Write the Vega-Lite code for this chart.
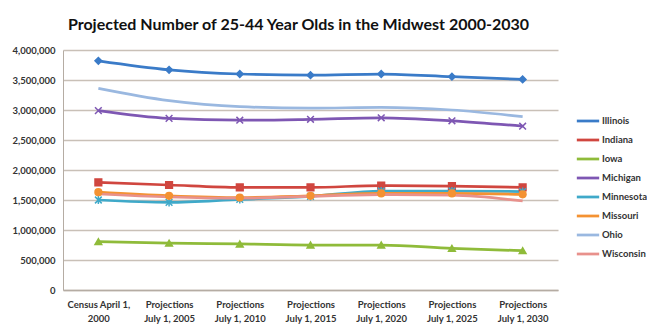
{
  "$schema": "https://vega.github.io/schema/vega-lite/v6.json",
  "width": 495,
  "height": 240,
  "autosize": {"type": "none"},
  "padding": {"left": 63, "top": 50, "right": 89, "bottom": 38},
  "background": "white",
  "title": {
    "text": "Projected Number of 25-44 Year Olds in the Midwest 2000-2030",
    "font": "Lato",
    "fontSize": 16,
    "fontWeight": "bold",
    "color": "#111111",
    "anchor": "middle",
    "dx": -12,
    "offset": 12
  },
  "data": {
    "values": [
      {"period": "Census April 1, 2000", "state": "Illinois", "value": 3820000},
      {"period": "Projections July 1, 2005", "state": "Illinois", "value": 3670000},
      {"period": "Projections July 1, 2010", "state": "Illinois", "value": 3600000},
      {"period": "Projections July 1, 2015", "state": "Illinois", "value": 3580000},
      {"period": "Projections July 1, 2020", "state": "Illinois", "value": 3600000},
      {"period": "Projections July 1, 2025", "state": "Illinois", "value": 3555000},
      {"period": "Projections July 1, 2030", "state": "Illinois", "value": 3510000},
      {"period": "Census April 1, 2000", "state": "Indiana", "value": 1795000},
      {"period": "Projections July 1, 2005", "state": "Indiana", "value": 1750000},
      {"period": "Projections July 1, 2010", "state": "Indiana", "value": 1710000},
      {"period": "Projections July 1, 2015", "state": "Indiana", "value": 1710000},
      {"period": "Projections July 1, 2020", "state": "Indiana", "value": 1740000},
      {"period": "Projections July 1, 2025", "state": "Indiana", "value": 1730000},
      {"period": "Projections July 1, 2030", "state": "Indiana", "value": 1710000},
      {"period": "Census April 1, 2000", "state": "Iowa", "value": 805000},
      {"period": "Projections July 1, 2005", "state": "Iowa", "value": 780000},
      {"period": "Projections July 1, 2010", "state": "Iowa", "value": 767000},
      {"period": "Projections July 1, 2015", "state": "Iowa", "value": 750000},
      {"period": "Projections July 1, 2020", "state": "Iowa", "value": 750000},
      {"period": "Projections July 1, 2025", "state": "Iowa", "value": 695000},
      {"period": "Projections July 1, 2030", "state": "Iowa", "value": 655000},
      {"period": "Census April 1, 2000", "state": "Michigan", "value": 2990000},
      {"period": "Projections July 1, 2005", "state": "Michigan", "value": 2860000},
      {"period": "Projections July 1, 2010", "state": "Michigan", "value": 2830000},
      {"period": "Projections July 1, 2015", "state": "Michigan", "value": 2845000},
      {"period": "Projections July 1, 2020", "state": "Michigan", "value": 2870000},
      {"period": "Projections July 1, 2025", "state": "Michigan", "value": 2820000},
      {"period": "Projections July 1, 2030", "state": "Michigan", "value": 2730000},
      {"period": "Census April 1, 2000", "state": "Minnesota", "value": 1500000},
      {"period": "Projections July 1, 2005", "state": "Minnesota", "value": 1460000},
      {"period": "Projections July 1, 2010", "state": "Minnesota", "value": 1510000},
      {"period": "Projections July 1, 2015", "state": "Minnesota", "value": 1560000},
      {"period": "Projections July 1, 2020", "state": "Minnesota", "value": 1650000},
      {"period": "Projections July 1, 2025", "state": "Minnesota", "value": 1650000},
      {"period": "Projections July 1, 2030", "state": "Minnesota", "value": 1640000},
      {"period": "Census April 1, 2000", "state": "Missouri", "value": 1630000},
      {"period": "Projections July 1, 2005", "state": "Missouri", "value": 1570000},
      {"period": "Projections July 1, 2010", "state": "Missouri", "value": 1540000},
      {"period": "Projections July 1, 2015", "state": "Missouri", "value": 1570000},
      {"period": "Projections July 1, 2020", "state": "Missouri", "value": 1610000},
      {"period": "Projections July 1, 2025", "state": "Missouri", "value": 1610000},
      {"period": "Projections July 1, 2030", "state": "Missouri", "value": 1595000},
      {"period": "Census April 1, 2000", "state": "Ohio", "value": 3360000},
      {"period": "Projections July 1, 2005", "state": "Ohio", "value": 3155000},
      {"period": "Projections July 1, 2010", "state": "Ohio", "value": 3055000},
      {"period": "Projections July 1, 2015", "state": "Ohio", "value": 3030000},
      {"period": "Projections July 1, 2020", "state": "Ohio", "value": 3045000},
      {"period": "Projections July 1, 2025", "state": "Ohio", "value": 3000000},
      {"period": "Projections July 1, 2030", "state": "Ohio", "value": 2890000},
      {"period": "Census April 1, 2000", "state": "Wisconsin", "value": 1600000},
      {"period": "Projections July 1, 2005", "state": "Wisconsin", "value": 1550000},
      {"period": "Projections July 1, 2010", "state": "Wisconsin", "value": 1530000},
      {"period": "Projections July 1, 2015", "state": "Wisconsin", "value": 1560000},
      {"period": "Projections July 1, 2020", "state": "Wisconsin", "value": 1590000},
      {"period": "Projections July 1, 2025", "state": "Wisconsin", "value": 1580000},
      {"period": "Projections July 1, 2030", "state": "Wisconsin", "value": 1485000}
    ]
  },
  "encoding": {
    "x": {
      "field": "period",
      "type": "ordinal",
      "sort": null,
      "axis": {
        "title": null,
        "labelAngle": 0,
        "ticks": false,
        "labelPadding": 9,
        "labelFont": "Lato",
        "labelFontSize": 9.5,
        "labelFontWeight": "bold",
        "labelColor": "#333333",
        "labelLineHeight": 14,
        "labelExpr": "indexof(datum.label, 'Census') == 0 ? ['Census  April 1,', '2000'] : ['Projections', substring(datum.label, 12)]",
        "domainColor": "#b5aca3",
        "domainWidth": 1.5
      }
    },
    "y": {
      "field": "value",
      "type": "quantitative",
      "scale": {"domain": [0, 4000000], "nice": false},
      "axis": {
        "title": null,
        "values": [0, 500000, 1000000, 1500000, 2000000, 2500000, 3000000, 3500000, 4000000],
        "format": ",d",
        "ticks": false,
        "labelPadding": 8,
        "labelFont": "Lato",
        "labelFontSize": 9.5,
        "labelFontWeight": "bold",
        "labelColor": "#333333",
        "domainColor": "#b5aca3",
        "gridColor": "#c9c0b7",
        "gridWidth": 1.5
      }
    }
  },
  "layer": [
    {
      "mark": {"type": "line", "interpolate": "monotone"},
      "encoding": {
        "color": {
          "field": "state",
          "type": "nominal",
          "scale": {
            "domain": ["Illinois", "Indiana", "Iowa", "Michigan", "Minnesota", "Missouri", "Ohio", "Wisconsin"],
            "range": ["#3a7bc8", "#d0463f", "#8fbb3a", "#7e57b3", "#3fa9c9", "#f49232", "#9ab8e0", "#e8918c"]
          },
          "legend": {
            "title": null,
            "orient": "none",
            "legendX": 512,
            "legendY": 58,
            "symbolType": "stroke",
            "symbolSize": 500,
            "symbolStrokeWidth": 2.5,
            "rowPadding": -1.4,
            "labelOffset": 1,
            "labelFont": "Lato",
            "labelFontSize": 9.5,
            "labelFontWeight": "bold",
            "labelColor": "#333333"
          }
        },
        "strokeWidth": {
          "field": "state",
          "type": "nominal",
          "scale": {
            "domain": ["Illinois", "Indiana", "Iowa", "Michigan", "Minnesota", "Missouri", "Ohio", "Wisconsin"],
            "range": [2.75, 2.75, 2.75, 2.75, 2.75, 2.75, 2, 1.5]
          },
          "legend": null
        }
      }
    },
    {
      "transform": [{"filter": "datum.state !== 'Ohio' && datum.state !== 'Wisconsin'"}],
      "mark": {"type": "point", "filled": true, "size": 45, "strokeWidth": 1.5, "opacity": 1},
      "encoding": {
        "color": {"field": "state", "type": "nominal"},
        "stroke": {
          "field": "state",
          "type": "nominal",
          "scale": {
            "domain": ["Illinois", "Indiana", "Iowa", "Michigan", "Minnesota", "Missouri"],
            "range": ["#3a7bc8", "#d0463f", "#8fbb3a", "#7e57b3", "#3fa9c9", "#f49232"]
          },
          "legend": null
        },
        "shape": {
          "field": "state",
          "type": "nominal",
          "scale": {
            "domain": ["Illinois", "Indiana", "Iowa", "Michigan", "Minnesota", "Missouri"],
            "range": ["diamond", "square", "triangle-up", "M-1,-1L1,1M-1,1L1,-1", "M-1,-1L1,1M-1,1L1,-1M0,-1.2L0,1.2", "circle"]
          },
          "legend": null
        }
      }
    }
  ],
  "config": {"view": {"stroke": null}}
}
